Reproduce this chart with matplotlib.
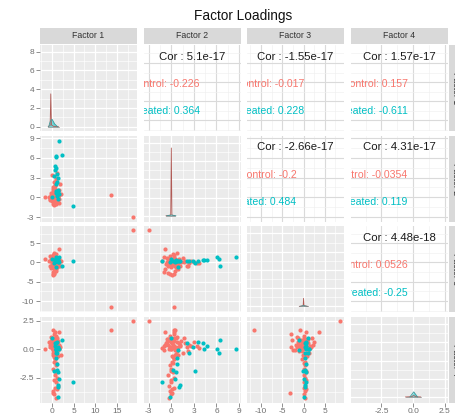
import matplotlib

matplotlib.use('Agg')
import matplotlib.pyplot as plt
import pandas as pd

plt.rcParams['font.family'] = ['Liberation Sans', 'DejaVu Sans']

factors = ['Factor 1', 'Factor 2', 'Factor 3', 'Factor 4']
group_colors = {'Control': '#F8766D', 'Treated': '#00BFC4'}

# loadings (factor 1..4) for each observation of the control group
ctrl_loadings = [
    (13.7, 0.4, -11.6, 1.7), (18.8, -3.0, 8.5, 2.45), (-1.7, 0.0, 0.9, 0.0),
    (1.6, -0.9, 3.6, 1.5), (-0.1, 3.4, -0.2, 0.3), (1.9, 2.1, -1.0, 0.2),
    (2.0, 0.5, 0.5, -0.5), (0.3, 0.1, -3.3, -3.8), (0.5, 0.4, -2.9, 1.3),
    (0.2, 0.5, -0.8, 1.7), (0.6, 0.3, 0.5, 1.5), (0.5, 2.4, -0.1, 0.4),
    (0.7, 1.8, 0.4, 0.5), (0.9, 2.6, 0.3, 0.3), (1.0, 3.0, 0.2, 0.6),
    (1.2, 3.7, -0.2, 0.1), (0.8, 2.2, -1.0, -0.2),
    (0.0, 0.1, 0.2, 0.5), (0.2, -0.3, -0.5, 0.8), (0.4, 0.5, 0.8, 0.2),
    (0.6, 0.0, -1.2, 0.6), (0.8, 0.3, 1.4, 0.1), (1.0, -0.5, 0.4, 0.9),
    (0.3, 1.2, -0.8, 0.3), (0.5, -0.8, -1.8, 0.4), (-0.3, 0.4, 0.9, 0.7),
    (-0.5, -0.2, 1.7, 0.2), (1.2, 0.8, -0.3, -0.2), (0.7, 1.7, 0.1, 1.0),
    (0.1, -1.0, -2.4, -0.1), (0.9, 0.2, 2.1, 0.4), (1.4, -0.1, -0.9, 0.7),
    (-0.2, 0.7, -1.5, 1.1), (0.6, 0.6, 0.6, -0.4), (0.2, 0.0, -0.2, 0.0),
    (1.1, 1.0, 1.0, 0.5), (0.4, -0.4, -2.8, 0.8), (0.8, -0.2, 0.0, 1.2),
    (1.6, 0.4, -0.6, 0.3), (-0.6, 0.1, 0.3, 0.6), (0.3, 1.6, 1.2, -0.3),
    (0.5, -1.2, 0.5, 0.1), (0.9, 0.9, -1.6, 0.2), (0.0, -0.6, 1.1, 0.9),
    (1.3, 0.1, 0.7, -0.6), (0.7, -0.7, -0.4, 0.5), (0.2, 0.3, 1.9, 1.0),
    (1.0, 0.5, -2.1, -0.1), (-0.4, -0.4, -1.0, 0.4), (0.6, 1.3, 0.2, 0.7),
    (1.5, -0.3, 0.9, 0.0), (0.1, 0.9, -0.1, -0.5), (0.8, -1.0, 1.5, 0.3),
    (1.2, 0.6, -1.3, 1.0), (0.4, 0.2, 0.0, -0.7), (-0.1, -0.1, -0.7, 0.1),
    (0.5, 0.8, 2.5, 0.6), (1.7, 1.1, 0.3, 0.4), (0.3, -0.2, -3.0, 0.2),
    (0.9, 0.0, 0.6, 0.8), (0.6, 0.4, -0.3, -0.9), (1.1, -0.6, 0.1, 0.6),
    (0.5, 0.1, 0.3, -1.1), (0.8, -0.2, 0.4, -1.4), (0.3, 0.0, 0.2, -1.7),
    (1.0, 0.2, 0.5, -2.0), (0.6, -0.4, 0.1, -2.3), (1.2, 0.3, 0.4, -2.5),
    (0.4, -0.1, 0.6, -2.7), (0.9, 0.0, 0.2, -2.9), (1.3, -0.3, 0.3, -3.2),
    (0.7, 0.4, 0.0, -3.4), (1.1, 0.1, 0.5, -3.5), (0.2, -0.2, 0.3, -3.7),
    (0.5, 0.0, 0.1, -3.9), (0.8, -0.3, 0.4, -4.3), (1.0, 0.2, 0.2, -1.2),
    (0.6, -0.1, 0.5, -1.9),
]

# loadings (factor 1..4) for each observation of the treated group
treat_loadings = [
    (1.5, 8.6, 1.3, 0.05), (2.2, 6.5, -1.0, 0.8), (1.0, 6.1, 1.3, 0.05),
    (0.9, 6.3, 1.0, -0.3), (0.85, 4.4, 0.6, 0.0), (0.6, 4.7, 0.6, 0.3),
    (0.7, 4.2, 0.6, 0.5), (1.2, 3.5, 0.5, 0.65), (0.5, 3.2, -0.2, -1.9),
    (1.4, 2.9, 0.3, 0.2), (1.2, 2.4, 0.3, -0.3), (0.8, 2.1, 0.3, 0.5),
    (4.8, -1.3, 0.5, -2.9), (1.3, 1.1, 0.4, -3.1), (1.0, 0.7, 0.4, -0.8),
    (1.1, 0.8, 0.5, -1.3), (1.2, 0.2, 0.3, -1.8), (1.3, 0.6, 0.6, -2.0),
    (1.5, 0.5, 0.2, -2.6), (-0.1, 0.0, 1.0, 1.0), (1.4, -0.2, 0.2, -4.2),
    (1.0, 0.9, -1.1, -0.1), (1.4, 1.0, 0.4, -3.3),
]

# correlation labels, pairs (1,2) (1,3) (1,4) (2,3) (2,4) (3,4)
cor_all = ['5.1e-17', '-1.55e-17', '1.57e-17', '-2.66e-17', '4.31e-17', '4.48e-18']
cor_ctrl = ['-0.226', '-0.017', '0.157', '-0.2', '-0.0354', '0.0526']
cor_treat = ['0.364', '0.228', '-0.611', '0.484', '0.119', '-0.25']

# density curves on the diagonal, one per factor
dens_x_ctrl = [[-0.9, -0.45, -0.3, -0.15, 0.3, 1.5],
               [-0.7, -0.08, 0.0, 0.08, 0.5],
               [-1.0, -0.1, 0.0, 0.1, 1.0],
               [-0.6, -0.1, 0.05, 0.2, 0.6]]
dens_y_ctrl = [[0.0, 0.15, 3.5, 0.2, 0.05, 0.0],
               [0.0, 0.01, 0.93, 0.01, 0.0],
               [0.0, 0.01, 0.11, 0.01, 0.0],
               [0.0, 0.005, 0.02, 0.005, 0.0]]
dens_x_treat = [[-0.8, -0.4, 0.0, 0.6, 1.3],
                [-0.6, 0.0, 0.6],
                [-0.8, 0.0, 0.8],
                [-0.25, 0.05, 0.35]]
dens_y_treat = [[0.0, 0.6, 0.8, 0.3, 0.0],
                [0.0, 0.01, 0.0],
                [0.0, 0.01, 0.0],
                [0.0, 0.07, 0.0]]

cols = ['f1', 'f2', 'f3', 'f4']
df = pd.concat([
    pd.DataFrame(ctrl_loadings, columns=cols).assign(group='Control'),
    pd.DataFrame(treat_loadings, columns=cols).assign(group='Treated'),
], ignore_index=True)

# axis settings per factor
xlims = [(-2.8, 19.7), (-3.7, 9.2), (-13.3, 9.5), (-4.95, 2.72)]
ylims = [(-2.8, 19.7), (-3.7, 9.4), (-12.9, 9.4), (-4.7, 2.84)]
major = [[0, 5, 10, 15], [-3, 0, 3, 6, 9], [-10, -5, 0, 5], [-2.5, 0, 2.5]]
minor = [[-2.5, 2.5, 7.5, 12.5, 17.5], [-1.5, 1.5, 4.5, 7.5],
         [-12.5, -7.5, -2.5, 2.5, 7.5], [-3.75, -1.25, 1.25]]
tick_text = [['0', '5', '10', '15'], ['-3', '0', '3', '6', '9'],
             ['-10', '-5', '0', '5'], ['-2.5', '0.0', '2.5']]
group_text_x = [0.58, 0.59, 0.59, 0.51, 0.59, 0.59]

W, H = 455, 418
fig = plt.figure(figsize=(W / 100, H / 100), dpi=100)
col_left = [40, 143.5, 247, 350.5]
col_w = 97
row_top = [45, 135.6, 226.2, 316.8]
row_h = 86


def px_rect(x, y, w, h):
    return [x / W, 1 - (y + h) / H, w / W, h / H]


pair = 0
for i in range(4):
    for j in range(4):
        ax = fig.add_axes(px_rect(col_left[j], row_top[i], col_w, row_h))
        for s in ax.spines.values():
            s.set_visible(False)
        ax.set_xlim(xlims[j])
        ax.set_xticks(major[j])
        ax.set_xticks(minor[j], minor=True)
        ax.set_xticklabels(tick_text[j])

        if i == j:
            # diagonal: group densities
            if i == 0:
                ax.set_ylim(-0.45, 8.7)
                ax.set_yticks([0, 2, 4, 6, 8])
                ax.set_yticks([1, 3, 5, 7], minor=True)
            else:
                ax.set_ylim(-0.08, 1.1)
                ax.set_yticks([0, 0.25, 0.5, 0.75, 1.0])
                ax.set_yticks([0.125, 0.375, 0.625, 0.875], minor=True)
            ax.set_facecolor('#EBEBEB')
            ax.grid(which='major', color='white', lw=0.9)
            ax.grid(which='minor', color='white', lw=0.45)
            ax.plot(dens_x_ctrl[i], dens_y_ctrl[i], color='#B05A55', lw=0.6)
            ax.fill_between(dens_x_treat[i], dens_y_treat[i], color='#00BFC4', alpha=0.55, lw=0)
            ax.plot(dens_x_treat[i], dens_y_treat[i], color='#3C9A9C', lw=0.6)
            ax.plot([min(dens_x_ctrl[i]), max(dens_x_ctrl[i])], [0, 0], color='#8A8A8A', lw=0.5)
        else:
            ax.set_ylim(ylims[i])
            ax.set_yticks(major[i])
            ax.set_yticks(minor[i], minor=True)
            ax.set_yticklabels(tick_text[i])
            if i > j:
                # lower: scatter of factor j against factor i
                ax.set_facecolor('#EBEBEB')
                ax.grid(which='major', color='white', lw=0.9)
                ax.grid(which='minor', color='white', lw=0.45)
                for g, sub in df.groupby('group'):
                    ax.scatter(sub[cols[j]], sub[cols[i]], s=9, color=group_colors[g],
                               linewidths=0, zorder=3)
            else:
                # upper: correlation text
                ax.set_facecolor('white')
                ax.grid(which='major', color='#DADADA', lw=0.8)
                ax.grid(which='minor', color='#F0F0F0', lw=0.45)
                ax.text(0.5, 0.864, 'Cor : ' + cor_all[pair], transform=ax.transAxes,
                        ha='center', va='center', fontsize=8.2, color='#1A1A1A')
                ax.text(group_text_x[pair], 0.545, 'Control: ' + cor_ctrl[pair],
                        transform=ax.transAxes, ha='right', va='center', fontsize=7.6,
                        color=group_colors['Control'], clip_on=True)
                ax.text(group_text_x[pair], 0.227, 'Treated: ' + cor_treat[pair],
                        transform=ax.transAxes, ha='right', va='center', fontsize=7.6,
                        color=group_colors['Treated'], clip_on=True)
                pair += 1

        ax.tick_params(which='minor', length=0)
        ax.tick_params(which='major', length=2.6, width=0.6, color='#7F7F7F',
                       labelsize=6, labelcolor='#6E6E6E', pad=1.5,
                       left=(j == 0), labelleft=(j == 0),
                       bottom=(i == 3), labelbottom=(i == 3))
        ax.set_axisbelow(True)

# facet strips along the top and the (cropped) right side
for j in range(4):
    sax = fig.add_axes(px_rect(col_left[j], 27.5, col_w, 16))
    sax.set_facecolor('#D9D9D9')
    sax.set_xticks([])
    sax.set_yticks([])
    for s in sax.spines.values():
        s.set_visible(False)
    sax.text(0.5, 0.5, factors[j], transform=sax.transAxes, ha='center', va='center',
             fontsize=6.3, color='#333333')

for i in range(4):
    sax = fig.add_axes(px_rect(448.5, row_top[i], 16, row_h))
    sax.set_facecolor('#D9D9D9')
    sax.set_xticks([])
    sax.set_yticks([])
    for s in sax.spines.values():
        s.set_visible(False)
    sax.text(0.45, 0.5, factors[i], transform=sax.transAxes, ha='center', va='center',
             rotation=270, fontsize=6.3, color='#333333')

fig.text(243 / W, 1 - 16 / H, 'Factor Loadings', ha='center', va='center',
         fontsize=9.8, color='#111111')

fig.savefig('out.png', dpi=100)
plt.close(fig)
